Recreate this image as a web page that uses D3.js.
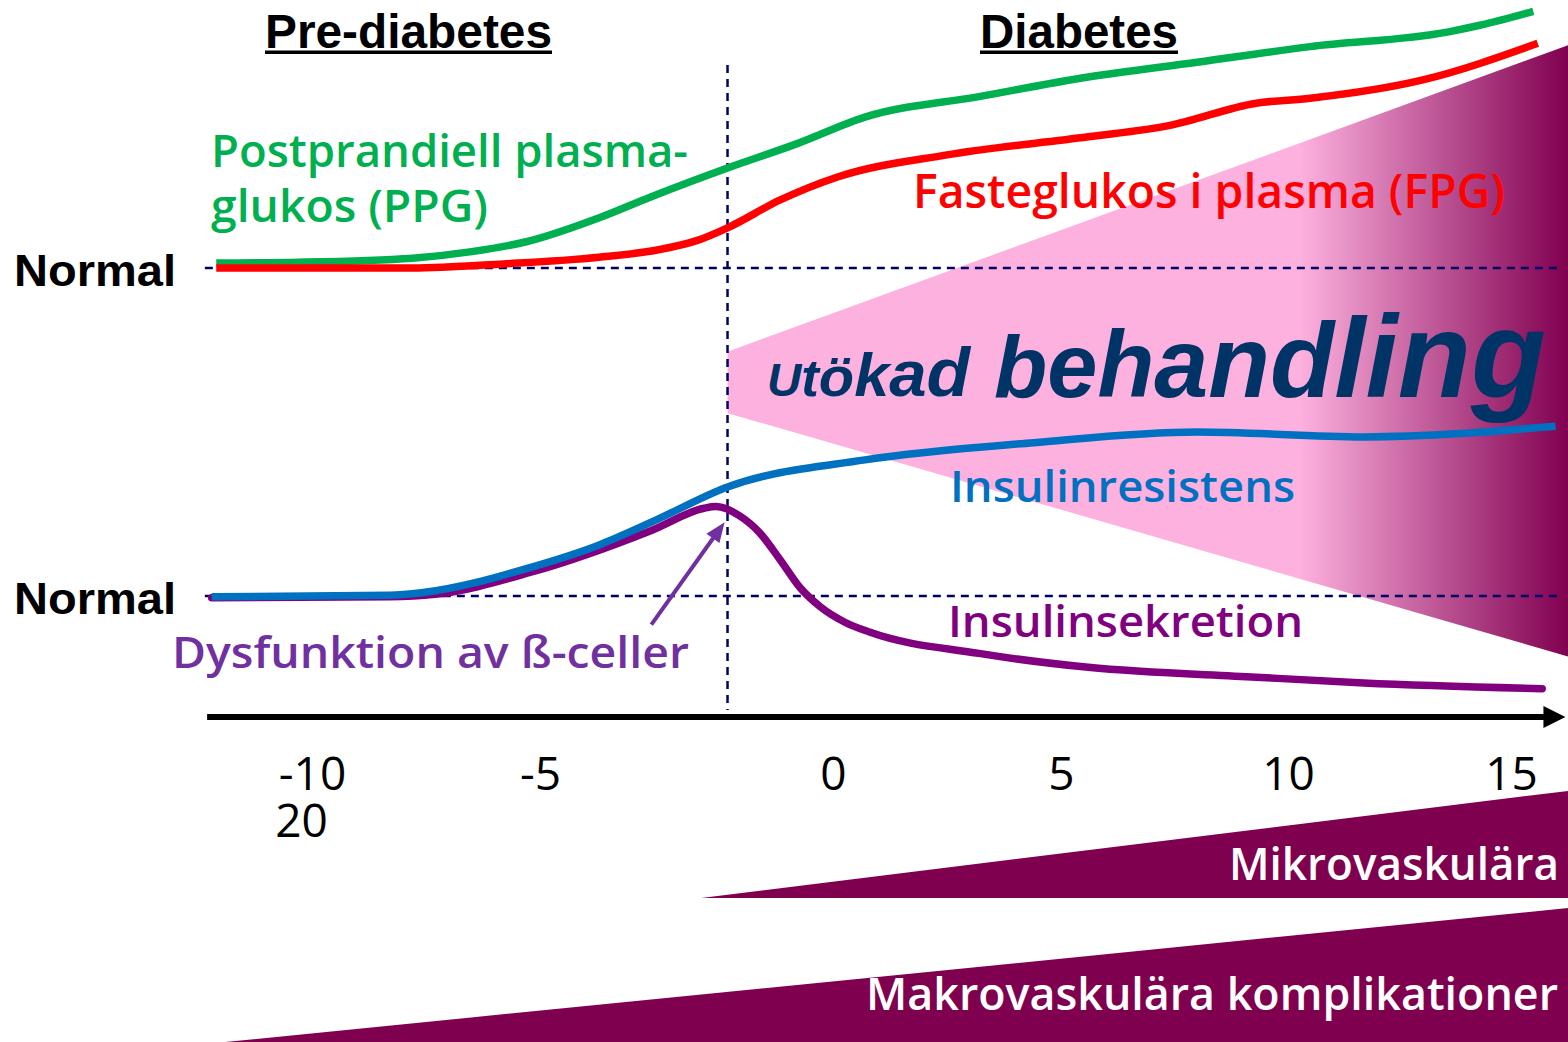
<!DOCTYPE html>
<html>
<head>
<meta charset="utf-8">
<script src="https://cdn.jsdelivr.net/npm/d3@7"></script>
<style>
  html, body { margin: 0; padding: 0; background: #fff; }
  svg { display: block; }
</style>
</head>
<body>
<svg id="chart" width="1568" height="1042"></svg>
<script>
// years relative to diagnosis
const tickValues = [-10, -5, 0, 5, 10, 15];
const tickLabels = ["-10\n20", "-5", "0", "5", "10", "15"];

// relative levels (normal glucose = 60, normal insulin = 20)
const normalGlucose = 60;
const normalInsulin = 20;
const diagnosisYear = -1.8;

// postprandial plasma glucose
const ppgYears = [-12.1, -10.3, -7.8, -6.5, -5.3, -4.0, -3.1, -1.8, -0.6, 0.7, 3.2, 5.6, 8.0, 10.5, 13.6, 14.3, 15.5];
const ppgValues = [60.6, 60.7, 61.2, 62.0, 63.2, 66.1, 68.7, 72.2, 75.2, 78.4, 80.9, 83.3, 85.1, 87.0, 88.8, 89.6, 91.3];

// fasting plasma glucose
const fpgYears = [-12.1, -7.8, -5.8, -4.0, -3.0, -2.3, -1.8, -0.9, 0.1, 2.5, 5.6, 7.4, 9.3, 10.5, 13.0, 15.6];
const fpgValues = [60.0, 60.0, 60.5, 61.3, 62.2, 63.4, 64.9, 68.3, 71.1, 73.8, 76.0, 77.4, 80.1, 80.7, 82.9, 87.4];

// insulin resistance
const irYears = [-12.2, -8.3, -7.6, -5.2, -4.0, -3.1, -1.8, 0.7, 4.4, 8.0, 11.7, 16.0];
const irValues = [19.9, 20.1, 20.4, 23.5, 26.2, 29.0, 33.3, 36.6, 38.7, 40.0, 39.4, 40.7];

// insulin secretion
const isYears = [-12.2, -8.3, -7.3, -5.2, -3.1, -2.2, -2.0, -1.6, -1.25, -0.9, -0.56, -0.22, 0.26, 0.8, 3.2, 5.6, 9.3, 11.7, 15.7];
const isValues = [19.8, 19.9, 20.2, 22.9, 28.0, 30.7, 30.9, 29.8, 27.7, 24.4, 21.0, 18.7, 16.8, 15.6, 13.0, 11.3, 10.1, 9.4, 8.7];

// intensified treatment wedge
const treatYears = [-1.8, 16.3];
const treatUpper = [49.8, 87.2];
const treatLower = [42.3, 12.6];

// complications (relative risk 0..1)
const microYears = [-2.25, 16.3];
const microRisk = [0, 0.8];
const macroYears = [-11.9, 16.3];
const macroRisk = [0, 1];

const svg = d3.select("#chart");
const axisY = 717;
const labelFont = "'Open Sans', 'DejaVu Sans Condensed', sans-serif";
const boldFont = "'Liberation Sans', Arial, sans-serif";

// the slide's year axis is not evenly spaced, so the scale is piecewise
const x = d3.scaleLinear().domain(tickValues).range([312, 540, 833, 1061, 1288, 1511]);
const y = d3.scaleLinear().domain([0, 100]).range([760, -60]);
const riskH = d3.scaleLinear().domain([0, 1]).range([0, 134]);

const zip = (xs, ys) => xs.map((d, i) => ({ t: d, v: ys[i] }));

// gradient for the treatment wedge
const defs = svg.append("defs");
const grad = defs.append("linearGradient")
    .attr("id", "treatGrad")
    .attr("gradientUnits", "userSpaceOnUse")
    .attr("x1", 1300).attr("x2", 1568).attr("y1", 0).attr("y2", 0);
grad.append("stop").attr("offset", 0).attr("stop-color", "#fdb1df");
grad.append("stop").attr("offset", 1).attr("stop-color", "#800050");

// wedge
const treat = treatYears.map((t, i) => ({ t, hi: treatUpper[i], lo: treatLower[i] }));
svg.append("path")
    .datum(treat)
    .attr("d", d3.area().x(d => x(d.t)).y0(d => y(d.lo)).y1(d => y(d.hi)))
    .attr("fill", "url(#treatGrad)");

// complication bands
function band(years, risk, base) {
    svg.append("path")
        .datum(zip(years, risk))
        .attr("d", d3.area().x(d => x(d.t)).y0(base).y1(d => base - riskH(d.v)))
        .attr("fill", "#800050");
}
band(microYears, microRisk, 898);
band(macroYears, macroRisk, 1042);

// dashed reference lines
const dash = svg.append("g")
    .attr("stroke", "#000066")
    .attr("stroke-width", 2.5)
    .attr("stroke-dasharray", "8,6");
[normalGlucose, normalInsulin].forEach(v => {
    dash.append("line")
        .attr("x1", x(-12.35)).attr("x2", x(16.1))
        .attr("y1", y(v)).attr("y2", y(v));
});
dash.append("line")
    .attr("x1", x(diagnosisYear)).attr("x2", x(diagnosisYear))
    .attr("y1", 65).attr("y2", axisY - 7);

// "Utökad behandling"
const ut = svg.append("text")
    .attr("x", 767).attr("y", 396)
    .attr("font-family", boldFont)
    .attr("font-weight", "bold")
    .attr("font-style", "italic")
    .attr("fill", "#003366")
    .attr("textLength", 203)
    .attr("lengthAdjust", "spacingAndGlyphs");
[["U", 46], ["t", 51], ["ö", 56], ["k", 61], ["a", 65], ["d", 69]].forEach(([c, s]) => {
    ut.append("tspan").attr("font-size", s).text(c);
});
const be = svg.append("text")
    .attr("x", 994).attr("y", 397)
    .attr("font-family", boldFont)
    .attr("font-weight", "bold")
    .attr("font-style", "italic")
    .attr("fill", "#003366")
    .attr("textLength", 552)
    .attr("lengthAdjust", "spacingAndGlyphs");
[["b", 88], ["e", 91], ["h", 94], ["a", 98], ["n", 102], ["d", 106], ["l", 114], ["i", 117], ["n", 121], ["g", 124]].forEach(([c, s]) => {
    be.append("tspan").attr("font-size", s).text(c);
});

// curves
const line = d3.line().x(d => x(d.t)).y(d => y(d.v)).curve(d3.curveMonotoneX);
function curve(years, values, color, cap) {
    svg.append("path")
        .datum(zip(years, values))
        .attr("d", line)
        .attr("fill", "none")
        .attr("stroke", color)
        .attr("stroke-width", 7.5)
        .attr("stroke-linecap", cap || "butt");
}
curve(ppgYears, ppgValues, "#00b050");
curve(fpgYears, fpgValues, "#ff0000");
curve(isYears, isValues, "#800080", "round");
curve(irYears, irValues, "#0070c0");

// beta-cell arrow
const a0 = [x(-3.1), y(16.5)];
const a1 = [x(-1.85), y(29.0)];
const ang = Math.atan2(a1[1] - a0[1], a1[0] - a0[0]);
const headL = 20, headW = 8;
const back = [a1[0] - headL * Math.cos(ang), a1[1] - headL * Math.sin(ang)];
svg.append("line")
    .attr("x1", a0[0]).attr("y1", a0[1])
    .attr("x2", back[0] + 3 * Math.cos(ang)).attr("y2", back[1] + 3 * Math.sin(ang))
    .attr("stroke", "#7030a0").attr("stroke-width", 4);
svg.append("path")
    .attr("d", `M${a1[0]},${a1[1]}L${back[0] - headW * Math.sin(ang)},${back[1] + headW * Math.cos(ang)}L${back[0] + headW * Math.sin(ang)},${back[1] - headW * Math.cos(ang)}Z`)
    .attr("fill", "#7030a0");

// x axis arrow
const axisEnd = x(16.22);
svg.append("line")
    .attr("x1", x(-12.3)).attr("x2", axisEnd - 12)
    .attr("y1", axisY).attr("y2", axisY)
    .attr("stroke", "#000").attr("stroke-width", 6);
svg.append("path")
    .attr("d", `M${axisEnd},${axisY}L${axisEnd - 22},${axisY - 11}L${axisEnd - 22},${axisY + 11}Z`)
    .attr("fill", "#000");

const xAxis = d3.axisBottom(x)
    .tickValues(tickValues)
    .tickSize(0)
    .tickFormat((d, i) => tickLabels[i]);
const gx = svg.append("g")
    .attr("transform", `translate(0,${axisY})`)
    .call(xAxis);
gx.select(".domain").remove();
gx.selectAll("text")
    .attr("y", 73)
    .attr("dy", 0)
    .attr("font-family", labelFont)
    .attr("font-weight", 500)
    .attr("font-size", 46)
    .attr("fill", "#000")
    .each(function () {
        const t = d3.select(this);
        const parts = t.text().split("\n");
        t.text(null);
        parts.forEach((p, i) => {
            const s = t.append("tspan").text(p);
            if (i > 0) s.attr("x", -11).attr("dy", 47);
        });
    });

// text labels
function label(txt, xPos, yPos, color, size, len, opts) {
    opts = opts || {};
    const t = svg.append("text")
        .attr("x", xPos).attr("y", yPos)
        .attr("font-family", opts.font || labelFont)
        .attr("font-weight", opts.weight || 600)
        .attr("font-size", size)
        .attr("fill", color)
        .text(txt);
    if (len) t.attr("textLength", len).attr("lengthAdjust", "spacingAndGlyphs");
    return t;
}

label("Pre-diabetes", 265, 48, "#000", 48, 287, { font: boldFont, weight: "bold" });
label("Diabetes", 980, 48, "#000", 48, 198, { font: boldFont, weight: "bold" });
svg.append("rect").attr("x", 265).attr("y", 50.5).attr("width", 287).attr("height", 3.5).attr("fill", "#000");
svg.append("rect").attr("x", 980).attr("y", 50.5).attr("width", 198).attr("height", 3.5).attr("fill", "#000");

label("Normal", 14, 286, "#000", 45, 162, { font: boldFont, weight: "bold" });
label("Normal", 14, 614, "#000", 45, 162, { font: boldFont, weight: "bold" });

label("Postprandiell plasma-", 211, 167, "#00b050", 46, 477);
label("glukos (PPG)", 211, 222, "#00b050", 46, 277);
label("Fasteglukos i plasma (FPG)", 913, 208, "#ff0000", 47, 592);
label("Insulinresistens", 950, 502, "#0070c0", 44, 345);
label("Insulinsekretion", 948, 637, "#800080", 44, 355);
label("Dysfunktion av ß-celler", 172, 668, "#7030a0", 44, 517);
label("Mikrovaskulära", 1229, 880, "#fff", 46, 330);
label("Makrovaskulära komplikationer", 866, 1010, "#fff", 46, 692);
</script>
</body>
</html>
